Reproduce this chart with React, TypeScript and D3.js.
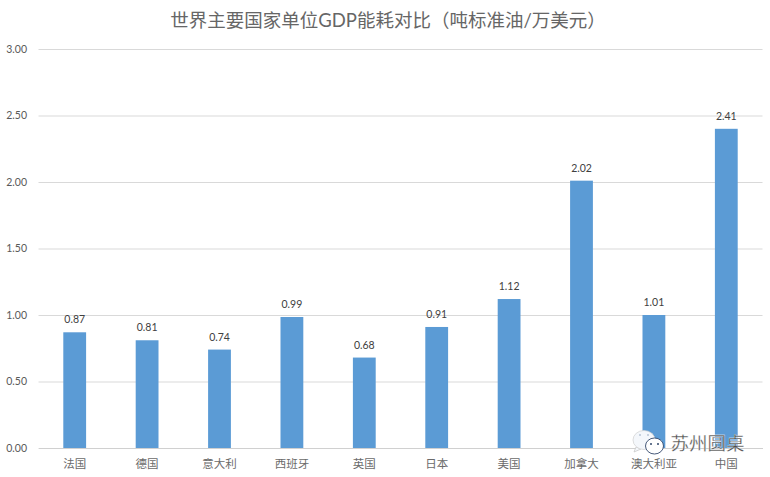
import React, { useEffect, useRef } from 'react'
import * as d3 from 'd3'

const categories = ['法国', '德国', '意大利', '西班牙', '英国', '日本', '美国', '加拿大', '澳大利亚', '中国']
// bar heights; the printed labels differ slightly on a few bars
const values = [0.87, 0.81, 0.74, 0.985, 0.68, 0.91, 1.12, 2.01, 1.0, 2.4]
const valueLabels = ['0.87', '0.81', '0.74', '0.99', '0.68', '0.91', '1.12', '2.02', '1.01', '2.41']
const yTicks = [0, 0.5, 1, 1.5, 2, 2.5, 3]
const title = '世界主要国家单位GDP能耗对比（吨标准油/万美元）'
const watermark = '苏州圆桌'

const width = 770
const height = 477
const margin = { left: 38.5, right: 7.5, top: 49, bottom: 29 }
const cjk = '"Noto Sans CJK SC", sans-serif'
const font = 'Lato, ' + cjk

const App = () => {
  const ref = useRef<SVGSVGElement>(null)

  useEffect(() => {
    const svg = d3.select(ref.current)
    svg.selectAll('*').remove()

    const x = d3
      .scaleBand<string>()
      .domain(categories)
      .range([margin.left, width - margin.right])
      .paddingInner(0.685)
      .paddingOuter(0.3425)
    const y = d3
      .scaleLinear()
      .domain([0, 3])
      .range([height - margin.bottom, margin.top])

    svg
      .append('text')
      .attr('x', 383)
      .attr('dx', 5)
      .attr('y', 27)
      .attr('text-anchor', 'middle')
      .attr('font-size', 18.5)
      .attr('font-family', font)
      .attr('fill', '#666666')
      .text(title)

    const yAxis = d3
      .axisLeft(y)
      .tickValues(yTicks)
      .tickSize(-(width - margin.left - margin.right))
      .tickFormat(d => d3.format('.2f')(+d))
    svg
      .append('g')
      .attr('transform', 'translate(' + margin.left + ',0)')
      .call(yAxis)
      .call(g => {
        g.select('.domain').remove()
        g.selectAll('.tick line').attr('stroke', '#d9d9d9').attr('stroke-width', 1)
        g.selectAll('.tick text')
          .attr('x', -11.5)
          .attr('font-family', font)
          .attr('font-size', 10.5)
          .attr('fill', '#595959')
      })

    svg
      .append('g')
      .selectAll('rect')
      .data(values)
      .join('rect')
      .attr('x', (_, i) => x(categories[i]) as number)
      .attr('width', x.bandwidth())
      .attr('y', d => y(d))
      .attr('height', d => y(0) - y(d))
      .attr('fill', '#5b9bd5')

    svg
      .append('g')
      .selectAll('text')
      .data(values)
      .join('text')
      .attr('x', (_, i) => (x(categories[i]) as number) + x.bandwidth() / 2)
      .attr('y', d => y(d) - 9)
      .attr('text-anchor', 'middle')
      .attr('font-family', font)
      .attr('font-size', 10.5)
      .attr('fill', '#404040')
      .text((_, i) => valueLabels[i])

    const xAxis = d3.axisBottom(x).tickSize(0)
    svg
      .append('g')
      .attr('transform', 'translate(0,' + y(0) + ')')
      .call(xAxis)
      .call(g => {
        g.select('.domain').attr('stroke', '#d0d0d0').attr('stroke-width', 1)
        g.selectAll('.tick text')
          .attr('y', 12)
          .attr('font-size', 11.5)
          .attr('font-family', font)
          .attr('fill', '#6b6b6b')
      })

    // wechat style watermark over the last bars
    const mark = svg.append('g')
    mark
      .append('path')
      .attr('d', 'M636 447L634 452L641 449Z')
      .attr('fill', '#f4f7fb')
      .attr('stroke', '#c4c4c4')
      .attr('stroke-width', 0.7)
    mark
      .append('ellipse')
      .attr('cx', 644)
      .attr('cy', 440)
      .attr('rx', 11)
      .attr('ry', 9.5)
      .attr('fill', '#f4f7fb')
      .attr('stroke', '#d0d0d0')
      .attr('stroke-width', 0.7)
    mark
      .append('ellipse')
      .attr('cx', 654.5)
      .attr('cy', 446)
      .attr('rx', 9)
      .attr('ry', 8)
      .attr('fill', '#ffffff')
      .attr('stroke', '#33486b')
      .attr('stroke-width', 0.9)
    mark
      .append('g')
      .selectAll('circle')
      .data([
        [640, 435, '#b8c4d4'],
        [648, 435, '#b8c4d4'],
        [651, 444, '#33486b'],
        [658, 444, '#33486b'],
      ])
      .join('circle')
      .attr('cx', d => d[0] as number)
      .attr('cy', d => d[1] as number)
      .attr('r', 1)
      .attr('fill', d => d[2] as string)
    mark
      .append('text')
      .attr('x', 670.5)
      .attr('y', 450)
      .attr('font-size', 18.5)
      .attr('font-family', cjk)
      .attr('fill', '#4d4d4d')
      .attr('stroke', '#ffffff')
      .attr('stroke-width', 0.3)
      .text(watermark)
  }, [])

  return (
    <svg
      ref={ref}
      width={width}
      height={height}
      style={{ position: 'absolute', left: 0, top: 0, background: '#fff', fontFamily: font }}
    />
  )
}

export default App
